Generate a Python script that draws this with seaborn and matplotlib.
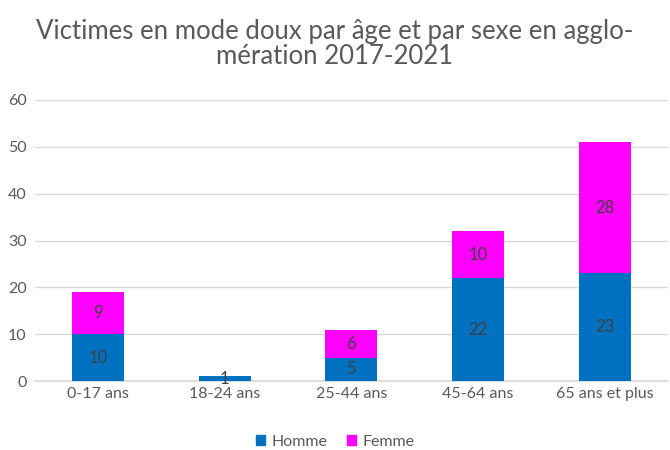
import matplotlib
matplotlib.use("Agg")
import matplotlib.pyplot as plt
import seaborn as sns
import pandas as pd
from matplotlib.patches import Patch

categories = ["0-17 ans", "18-24 ans", "25-44 ans", "45-64 ans", "65 ans et plus"]
homme = [10, 1, 5, 22, 23]
femme = [9, 0, 6, 10, 28]
yticks = [0, 10, 20, 30, 40, 50, 60]

sns.set_theme(style="white")
plt.rcParams['font.family'] = ['Lato', 'DejaVu Sans']

df = pd.DataFrame({"cat": categories, "Homme": homme, "Femme": femme})
df["total"] = df["Homme"] + df["Femme"]

fig = plt.figure(figsize=(6.7, 4.5), dpi=100)
ax = fig.add_axes([0.052, 0.153, 0.945, 0.625])

c_h = "#0070C0"
c_f = "#FF00FF"

sns.barplot(data=df, x="cat", y="total", color=c_f, width=0.41, ax=ax,
            saturation=1, zorder=3, linewidth=0, edgecolor="none")
sns.barplot(data=df, x="cat", y="Homme", color=c_h, width=0.41, ax=ax,
            saturation=1, zorder=3, linewidth=0, edgecolor="none")

bars_h = ax.containers[1]
for rect, h, f in zip(bars_h, homme, femme):
    x = rect.get_x() + rect.get_width() / 2
    if h:
        ax.text(x, h / 2, str(h), ha="center", va="center", fontsize=12,
                color="#404040", zorder=5)
    if f:
        ax.text(x, h + f / 2, str(f), ha="center", va="center", fontsize=12,
                color="#404040", zorder=5)

ax.set_ylim(0, 60)
ax.set_yticks(yticks)
ax.set_xlim(-0.5, len(categories) - 0.5)
ax.yaxis.grid(True, color="#D9D9D9", linewidth=1, zorder=0)
ax.set_axisbelow(True)
for s in ["top", "right", "left"]:
    ax.spines[s].set_visible(False)
ax.spines["bottom"].set_color("#D9D9D9")
ax.spines["bottom"].set_zorder(0)
ax.set_xlabel("")
ax.set_ylabel("")
ax.tick_params(axis="both", length=0, labelsize=11.5, colors="#595959", pad=4)
ax.tick_params(axis="y", pad=6)

fig.text(0.5, 0.902, "Victimes en mode doux par âge et par sexe en agglo-\nmération 2017-2021",
         fontsize=18.5, color="#595959", ha="center", va="center", linespacing=1.02)

handles = [Patch(color=c_h, label="Homme"), Patch(color=c_f, label="Femme")]
fig.legend(handles=handles, loc="center", bbox_to_anchor=(0.5, 0.018),
           ncol=2, frameon=False, fontsize=11.5, handlelength=0.6,
           handleheight=0.6, columnspacing=1.2, handletextpad=0.4,
           labelcolor="#595959")

fig.savefig("out.png", dpi=100)
